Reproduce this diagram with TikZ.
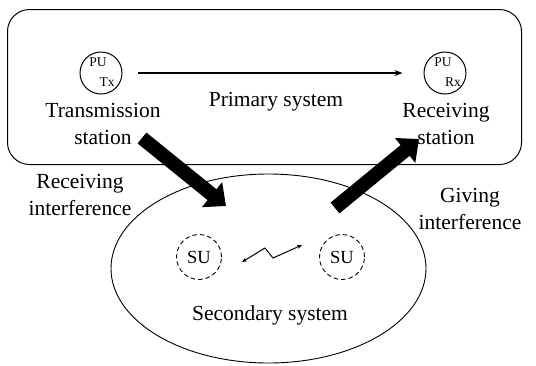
\documentclass[tikz,border=0pt]{standalone}
\usepackage{fontspec}
\setmainfont{Liberation Serif}
\usetikzlibrary{arrows.meta,shapes.geometric}
\begin{document}
\begin{tikzpicture}[x=1pt,y=-1pt,
  lbl/.style={font=\fontsize{21.5}{27}\selectfont, align=center, inner sep=0pt},
  small/.style={font=\fontsize{13.5}{14}\selectfont, inner sep=0pt},
  pu/.style={circle, draw, line width=1pt, minimum size=42pt, inner sep=0pt},
  su/.style={circle, draw, dash pattern=on 4.5pt off 3pt, line width=0.9pt, minimum size=45pt, inner sep=0pt, font=\fontsize{18.5}{19}\selectfont},
  bigarrow/.style={line width=14pt, -{Triangle[width=31pt,length=18pt]}},
]
\useasboundingbox (0,0) rectangle (536,365);
% primary system box
\node[draw, rounded corners=22pt, line width=1pt, minimum width=514pt, minimum height=155pt, anchor=north west] (prim) at (7,9) {};
% secondary ellipse
\node[draw, ellipse, line width=0.9pt, minimum width=315pt, minimum height=189pt] (sec) at (268.5,268.5) {};
% PU circles
\node[pu] (tx) at (101,73) {};
\node[small] (txpu) at (98,62) {PU};
\node[small] (txtx) at (107,82) {Tx};
\node[pu] (rx) at (445,73) {};
\node[small] (rxpu) at (443,62) {PU};
\node[small] (rxrx) at (453,82) {Rx};
\draw[line width=1.6pt, -{Stealth[length=8pt,width=6pt]}, shorten <=15pt, shorten >=21pt] (tx) -- (rx);
% labels
\node[lbl] (tl) at (103,124) {Transmission\\station};
\node[lbl] (ps) at (276,102) {Primary system};
\node[lbl] (rl) at (446,124) {Receiving\\station};
\node[lbl] (ri) at (80,195) {Receiving\\interference};
\node[lbl] (gi) at (470,209) {Giving\\interference};
\node[lbl] (ss) at (270,315) {Secondary system};
% SU nodes
\node[su] (su1) at (199,257) {SU};
\node[su] (su2) at (342,257) {SU};
% zigzag link
\coordinate (z1) at (242,262);
\coordinate (z2) at (265,248);
\coordinate (z3) at (273,258);
\coordinate (z4) at (302,245);
\draw[line width=1pt, {Stealth[length=5pt,width=4pt]}-{Stealth[length=5pt,width=4pt]}] (z1) -- (z2) -- (z3) -- (z4);
% interference arrows
\coordinate (a1) at (142,138);
\coordinate (a2) at (226,206);
\coordinate (b1) at (335,208);
\coordinate (b2) at (419,139);
\draw[bigarrow] (a1) -- (a2);
\draw[bigarrow] (b1) -- (b2);
\end{tikzpicture}
\end{document}
